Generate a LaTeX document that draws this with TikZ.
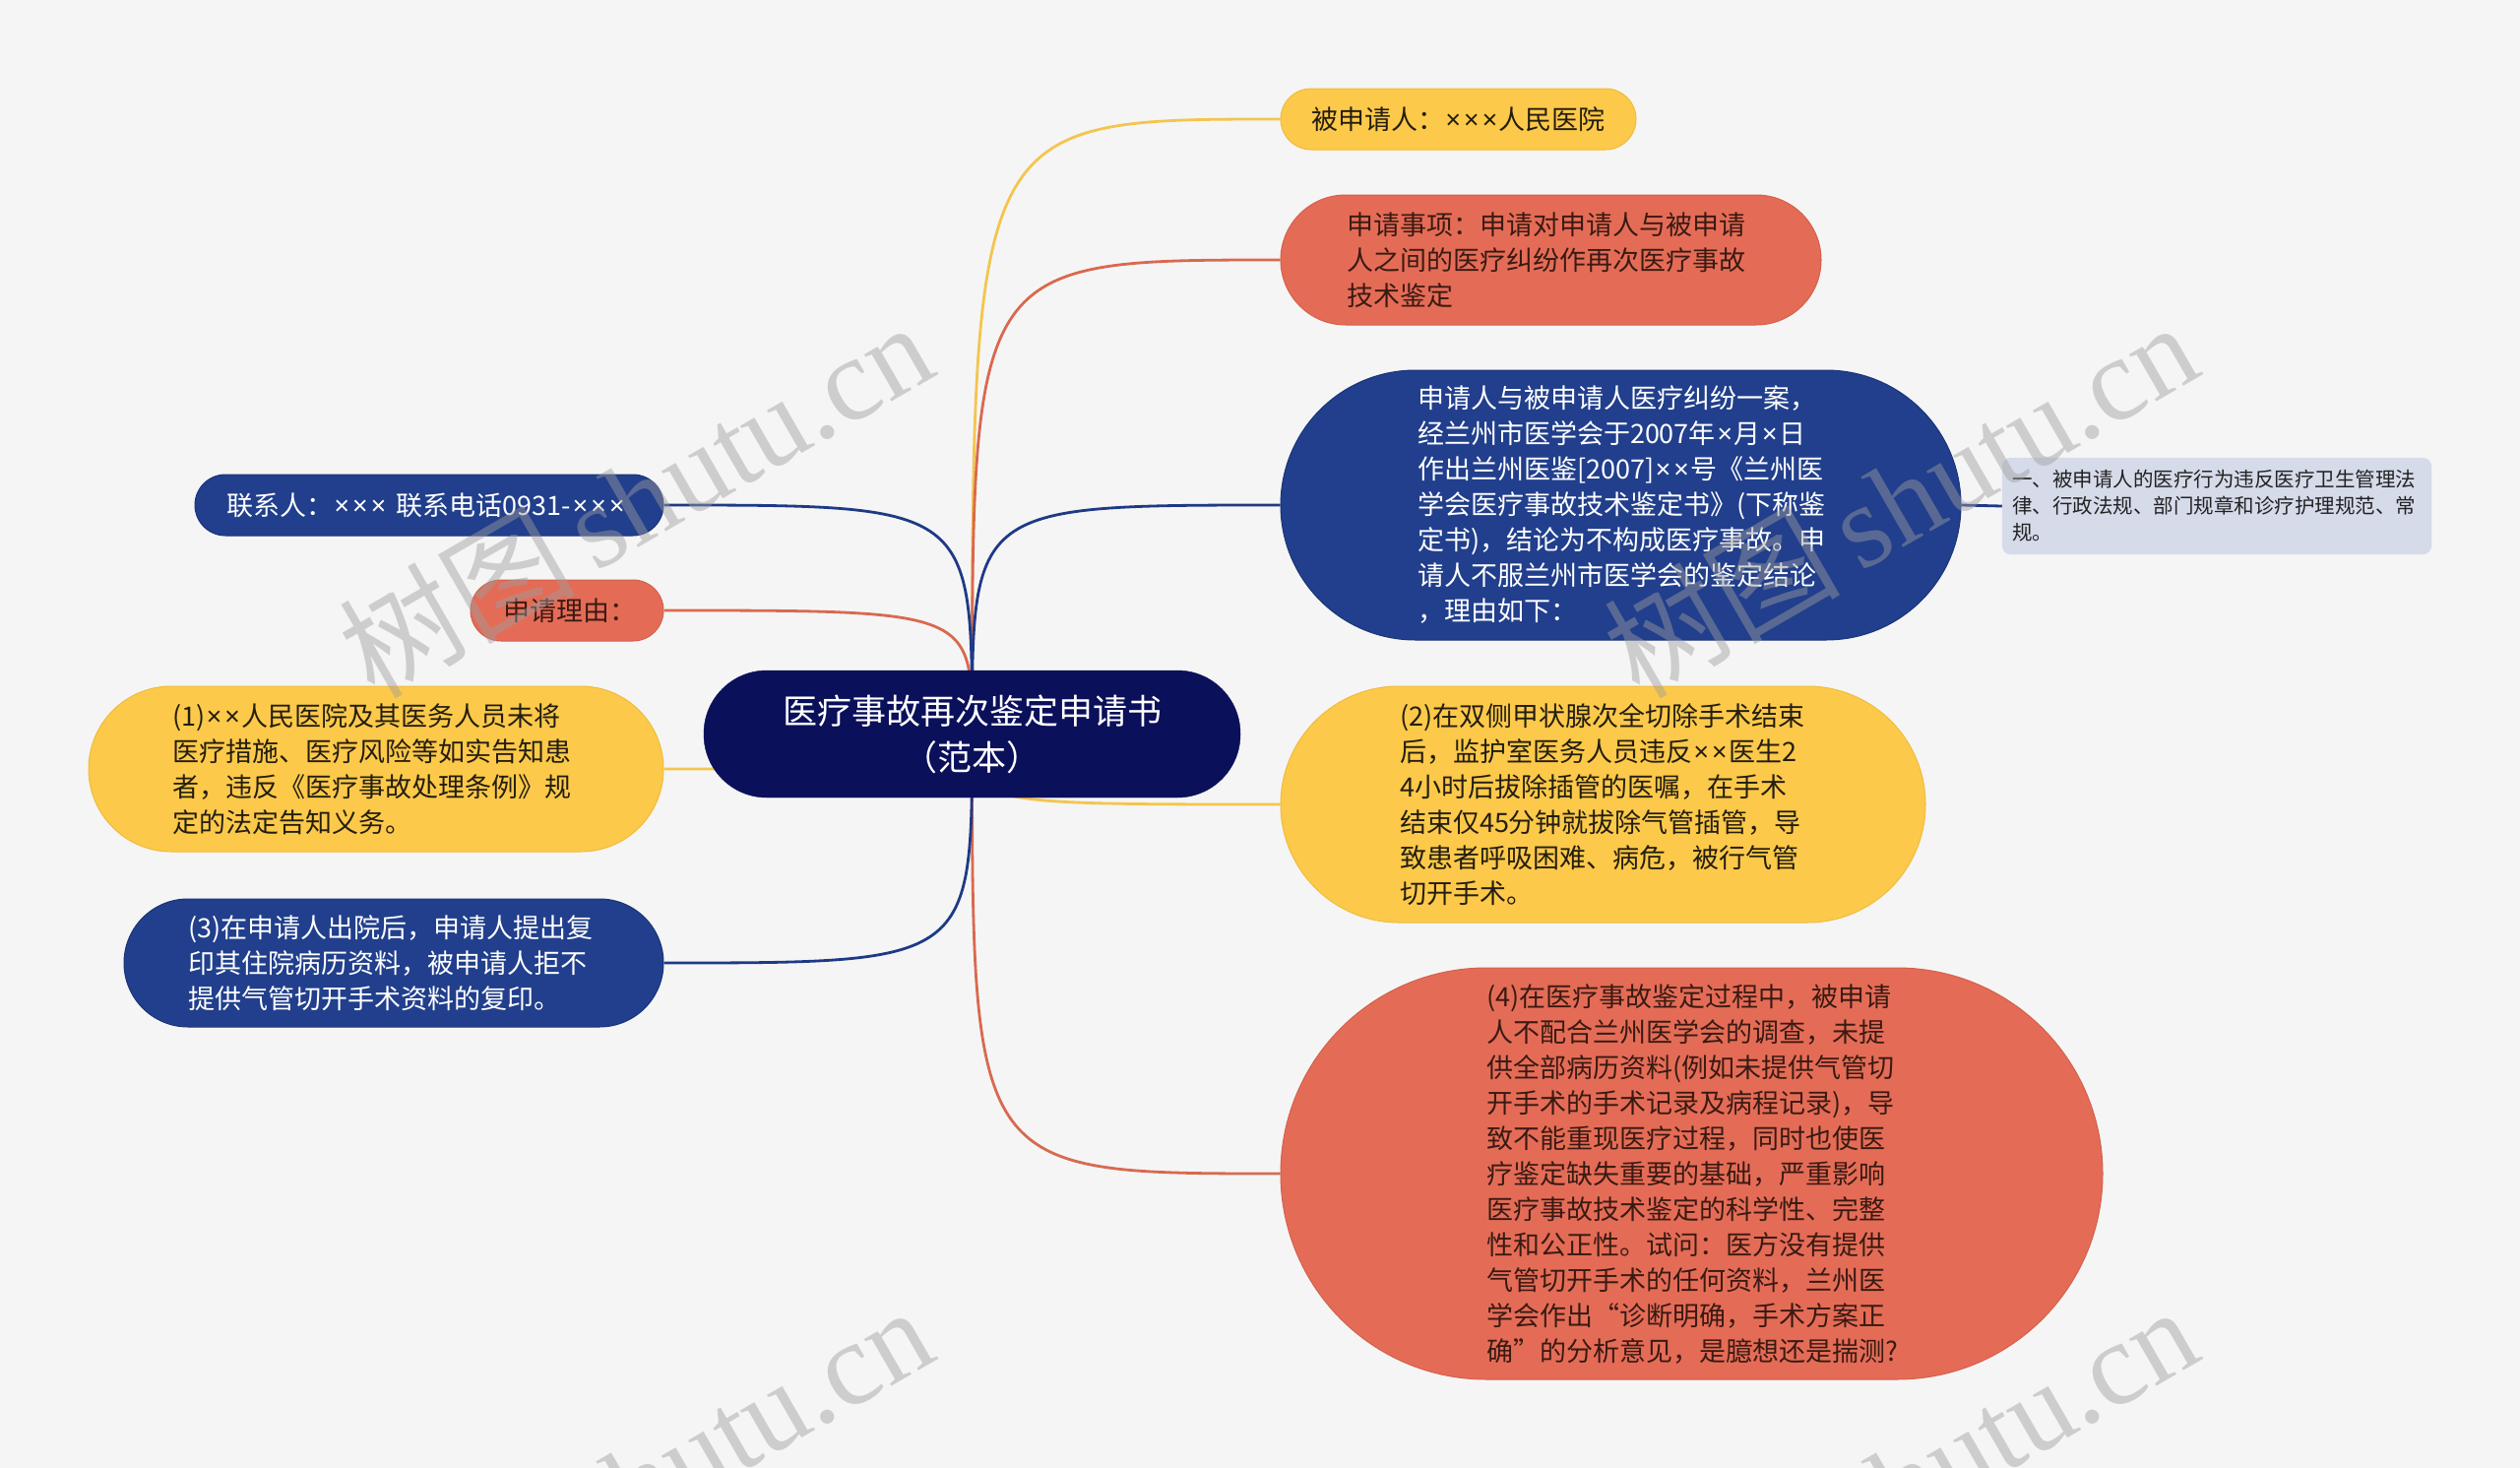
\documentclass[tikz,border=0pt]{standalone}
\usepackage{fontspec}
\setmainfont{Noto Sans CJK SC}
\newfontfamily\xfont{Noto Sans}
\newfontfamily\wmfont{Liberation Serif}
\definecolor{bgc}{HTML}{F5F5F5}
\definecolor{cY}{HTML}{FCC94A}
\definecolor{cYd}{HTML}{F0BC3E}
\definecolor{cYt}{HTML}{241E10}
\definecolor{cYl}{HTML}{F4C54E}
\definecolor{cR}{HTML}{E46C57}
\definecolor{cRd}{HTML}{D4604C}
\definecolor{cRt}{HTML}{3A1A12}
\definecolor{cRl}{HTML}{D9694F}
\definecolor{cB}{HTML}{213F8C}
\definecolor{cBd}{HTML}{1A3478}
\definecolor{cBl}{HTML}{1E3A86}
\definecolor{cRoot}{HTML}{0B105A}
\definecolor{cD}{HTML}{D6DBEA}
\definecolor{cDt}{HTML}{222222}
\definecolor{wmc}{HTML}{9E9E9E}
\pgfdeclarelayer{bg}
\pgfdeclarelayer{fg}
\pgfsetlayers{bg,main,fg}
\newcommand{\X}{\kern1.6pt{\xfont ×}\kern1.6pt}
\tikzset{
  box/.style={align=left, inner ysep=0pt, line width=1pt, font=\fontsize{27}{36}\selectfont},
  ynode/.style={box, fill=cY, draw=cYd, text=cYt},
  rnode/.style={box, fill=cR, draw=cRd, text=cRt},
  bnode/.style={box, fill=cB, draw=cBd, text=white},
  dnode/.style={align=left, inner ysep=0pt, fill=cD, draw=cD, text=cDt, rounded corners=9, font=\fontsize{20.5}{27}\selectfont},
  rootnode/.style={align=center, fill=cRoot, draw=cRoot, text=white, font=\fontsize{35}{47}\selectfont},
  conn/.style={line width=2.8pt},
  wm/.style={rotate=30, text=wmc, text opacity=0.45, inner sep=0pt, font=\fontsize{120}{120}\selectfont}
}
\begin{document}
\begin{tikzpicture}[x=1pt,y=-1pt]
\useasboundingbox (0,0) rectangle (2560,1491);
% root
\node[rootnode, minimum width=545, minimum height=129, rounded corners=64] (root) at (987.5,745.5) {医疗事故再次鉴定申请书\\（范本）};
% right side
\node[ynode, minimum height=62, text width=299, inner xsep=31, rounded corners=31] (A) at (1481.5,121) {被申请人：\X{}\X{}\X{}人民医院};
\node[rnode, minimum height=132, text width=415, inner xsep=67, rounded corners=66] (B) at (1575.5,264) {申请事项：申请对申请人与被申请\\人之间的医疗纠纷作再次医疗事故\\技术鉴定};
\node[bnode, minimum height=274, text width=413, inner xsep=139, rounded corners=137] (C) at (1646.5,513) {申请人与被申请人医疗纠纷一案，\\经兰州市医学会于2007年\X{}月\X{}日\\作出兰州医鉴[2007]\X{}\X{}号《兰州医\\学会医疗事故技术鉴定书》(下称鉴\\定书)，结论为不构成医疗事故。申\\请人不服兰州市医学会的鉴定结论\\，理由如下：};
\node[dnode, minimum height=98, text width=416, inner xsep=10] (D) at (2252,514) {一、被申请人的医疗行为违反医疗卫生管理法\\律、行政法规、部门规章和诊疗护理规范、常\\规。};
\node[ynode, minimum height=240, text width=413, inner xsep=121, rounded corners=120] (E) at (1628.5,817) {(2)在双侧甲状腺次全切除手术结束\\后，监护室医务人员违反\X{}\X{}医生2\\4小时后拔除插管的医嘱，在手术\\结束仅45分钟就拔除气管插管，导\\致患者呼吸困难、病危，被行气管\\切开手术。};
\node[rnode, minimum height=418, text width=417, inner xsep=209, rounded corners=209] (F) at (1718.5,1192) {(4)在医疗事故鉴定过程中，被申请\\人不配合兰州医学会的调查，未提\\供全部病历资料(例如未提供气管切\\开手术的手术记录及病程记录)，导\\致不能重现医疗过程，同时也使医\\疗鉴定缺失重要的基础，严重影响\\医疗事故技术鉴定的科学性、完整\\性和公正性。试问：医方没有提供\\气管切开手术的任何资料，兰州医\\学会作出“诊断明确，手术方案正\\确”的分析意见，是臆想还是揣测?};
% left side
\node[bnode, minimum height=62, text width=412, inner xsep=32, rounded corners=31] (G) at (436,513) {联系人：\X{}\X{}\X{} 联系电话0931-\X{}\X{}\X{}};
\node[rnode, minimum height=62, text width=130, inner xsep=33, rounded corners=31] (H) at (576,620) {申请理由：};
\node[ynode, minimum height=168, text width=414, inner xsep=85, rounded corners=84] (I) at (382,781) {(1)\X{}\X{}人民医院及其医务人员未将\\医疗措施、医疗风险等如实告知患\\者，违反《医疗事故处理条例》规\\定的法定告知义务。};
\node[bnode, minimum height=130, text width=418, inner xsep=65, rounded corners=65] (J) at (400,978) {(3)在申请人出院后，申请人提出复\\印其住院病历资料，被申请人拒不\\提供气管切开手术资料的复印。};
\begin{pgfonlayer}{bg}
\fill[bgc] (0,0) rectangle (2560,1491);
\draw[conn, cYl] (root.center) .. controls (root.center |- A.west) .. (A.west);
\draw[conn, cRl] (root.center) .. controls (root.center |- B.west) .. (B.west);
\draw[conn, cBl] (root.center) .. controls (root.center |- C.west) .. (C.west);
\draw[conn, cYl] (root.center) .. controls (root.center |- E.west) .. (E.west);
\draw[conn, cRl] (root.center) .. controls (root.center |- F.west) .. (F.west);
\draw[conn, cBl] (root.center) .. controls (root.center |- G.east) .. (G.east);
\draw[conn, cRl] (root.center) .. controls (root.center |- H.east) .. (H.east);
\draw[conn, cYl] (root.center) .. controls (root.center |- I.east) .. (I.east);
\draw[conn, cBl] (root.center) .. controls (root.center |- J.east) .. (J.east);
\draw[conn, cBl] (C.east) -- (D.west);
\end{pgfonlayer}
\begin{pgfonlayer}{fg}
\begin{scope}
\clip (0,0) rectangle (2560,1491);
\node[wm] (wm1) at (645,506) {树图\,{\wmfont shutu.cn}};
\node[wm] (wm2) at (1930,506) {树图\,{\wmfont shutu.cn}};
\node[wm] (wm3) at (645,1506) {树图\,{\wmfont shutu.cn}};
\node[wm] (wm4) at (1930,1506) {树图\,{\wmfont shutu.cn}};
\end{scope}
\end{pgfonlayer}
\end{tikzpicture}
\end{document}
